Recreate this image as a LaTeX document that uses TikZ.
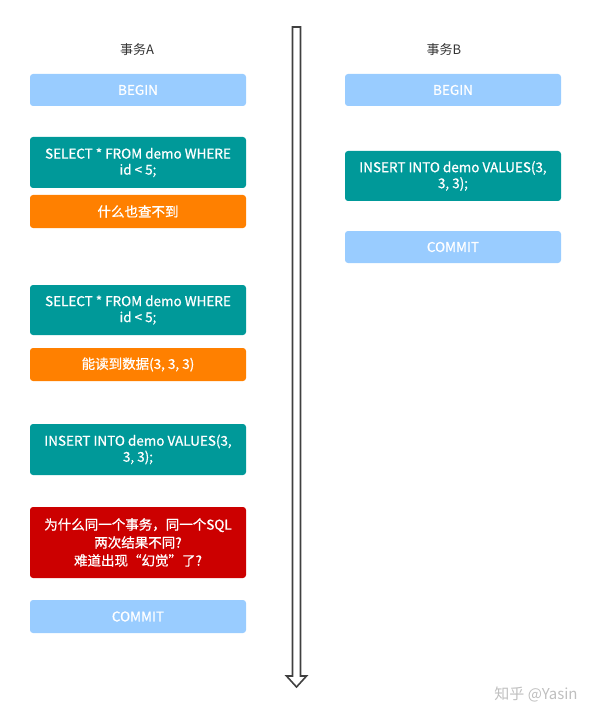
\documentclass[tikz,border=0pt]{standalone}
\usepackage{fontspec}
\setmainfont{Noto Sans CJK SC}
\newfontfamily\boxfont[FakeBold=0.8]{Noto Sans CJK SC}
\usetikzlibrary{positioning}

\definecolor{lightblue}{HTML}{99CCFF}
\definecolor{sqlteal}{HTML}{009999}
\definecolor{resorange}{HTML}{FF8000}
\definecolor{alertred}{HTML}{CC0000}

\tikzset{
  stepbox/.style={rectangle,rounded corners=3pt,minimum width=216pt,align=center,
    text=white,inner sep=0pt,font=\boxfont\fontsize{13.5}{16}\selectfont},
  ctrl/.style={stepbox,fill=lightblue,minimum height=32pt},
  sql/.style={stepbox,fill=sqlteal,minimum height=51pt},
  result/.style={stepbox,fill=resorange,minimum height=33pt},
  alert/.style={stepbox,fill=alertred,minimum height=71pt,font=\boxfont\fontsize{13.5}{18}\selectfont},
}

\begin{document}
\begin{tikzpicture}[x=1pt,y=-1pt]
  \useasboundingbox (0,0) rectangle (603,719);

  % column titles
  \node[font=\fontsize{13}{15}\selectfont,text=black!80] (titleA) at (137,50) {事务A};
  \node[font=\fontsize{13}{15}\selectfont,text=black!80] (titleB) at (444,50) {事务B};

  % transaction A
  \node[ctrl] (beginA) at (138,90) {BEGIN};
  \node[sql] (selA) at (138,162.5) {SELECT * FROM demo WHERE\\id < 5;};
  \node[result] (noneA) at (138,211.5) {什么也查不到};
  \node[sql,minimum height=50pt] (selB) at (138,310) {SELECT * FROM demo WHERE\\id < 5;};
  \node[result] (readA) at (138,364.5) {能读到数据(3, 3, 3)};
  \node[sql] (insA) at (138,449.5) {INSERT INTO demo VALUES(3,\\3, 3);};
  \node[alert] (whyA) at (138,542.5) {为什么同一个事务，同一个SQL\\两次结果不同?\\难道出现“幻觉”了?};
  \node[ctrl,minimum height=33pt] (commitA) at (138,616.5) {COMMIT};

  % transaction B
  \node[ctrl] (beginB) at (453,90) {BEGIN};
  \node[sql,minimum height=50pt] (insB) at (453,176) {INSERT INTO demo VALUES(3,\\3, 3);};
  \node[ctrl] (commitB) at (453,247) {COMMIT};

  % time axis
  \draw[line width=1.6pt,draw=black!75,line join=miter]
    (292.5,27) -- (300.5,27) -- (300.5,676) -- (306.5,676) -- (296.5,687)
    -- (286.5,676) -- (292.5,676) -- cycle;

  % watermark
  \node[font=\fontsize{15}{17}\selectfont,text=black!25] (mark) at (536,694) {知乎 @Yasin};
\end{tikzpicture}
\end{document}
